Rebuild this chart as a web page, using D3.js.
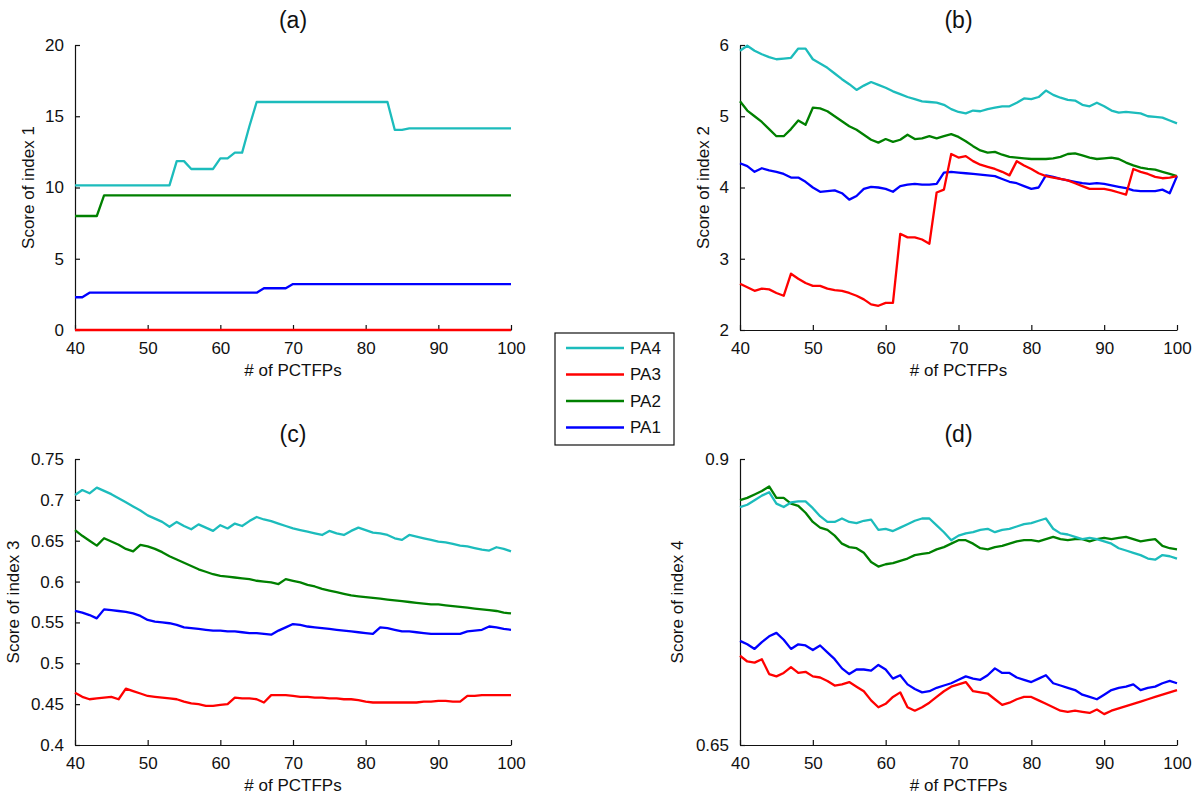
<!DOCTYPE html>
<html>
<head>
<meta charset="utf-8">
<script src="https://cdn.jsdelivr.net/npm/d3@7"></script>
<style>
  body { margin: 0; background: #fff; }
  text { font-family: Arial, "Liberation Sans", sans-serif; fill: #111; }
</style>
</head>
<body>
<div id="chart-area"></div>
<script>
// x grid: number of PCTFPs
const pctfps = [40, 41, 42, 43, 44, 45, 46, 47, 48, 49, 50, 51, 52, 53, 54, 55, 56, 57, 58, 59, 60,
    61, 62, 63, 64, 65, 66, 67, 68, 69, 70, 71, 72, 73, 74, 75, 76, 77, 78, 79, 80,
    81, 82, 83, 84, 85, 86, 87, 88, 89, 90, 91, 92, 93, 94, 95, 96, 97, 98, 99, 100]

const seriesNames = ['PA4', 'PA3', 'PA2', 'PA1']
const xTicks = [40, 50, 60, 70, 80, 90, 100]

// (a) index 1
const a_PA4 = [10.15, 10.15, 10.15, 10.15, 10.15, 10.15, 10.15, 10.15, 10.15, 10.15, 10.15, 10.15, 10.15, 10.15, 11.85, 11.85, 11.3, 11.3, 11.3, 11.3, 12.05,
    12.05, 12.45, 12.45, 14.3, 16, 16, 16, 16, 16, 16, 16, 16, 16, 16, 16, 16, 16, 16, 16, 16,
    16, 16, 16, 14.05, 14.05, 14.15, 14.15, 14.15, 14.15, 14.15, 14.15, 14.15, 14.15, 14.15, 14.15, 14.15, 14.15, 14.15, 14.15, 14.15]
const a_PA3 = [0, 0, 0, 0, 0, 0, 0, 0, 0, 0, 0, 0, 0, 0, 0, 0, 0, 0, 0, 0, 0,
    0, 0, 0, 0, 0, 0, 0, 0, 0, 0, 0, 0, 0, 0, 0, 0, 0, 0, 0, 0,
    0, 0, 0, 0, 0, 0, 0, 0, 0, 0, 0, 0, 0, 0, 0, 0, 0, 0, 0, 0]
const a_PA2 = [8, 8, 8, 8, 9.45, 9.45, 9.45, 9.45, 9.45, 9.45, 9.45, 9.45, 9.45, 9.45, 9.45, 9.45, 9.45, 9.45, 9.45, 9.45, 9.45,
    9.45, 9.45, 9.45, 9.45, 9.45, 9.45, 9.45, 9.45, 9.45, 9.45, 9.45, 9.45, 9.45, 9.45, 9.45, 9.45, 9.45, 9.45, 9.45, 9.45,
    9.45, 9.45, 9.45, 9.45, 9.45, 9.45, 9.45, 9.45, 9.45, 9.45, 9.45, 9.45, 9.45, 9.45, 9.45, 9.45, 9.45, 9.45, 9.45, 9.45]
const a_PA1 = [2.3, 2.3, 2.62, 2.62, 2.62, 2.62, 2.62, 2.62, 2.62, 2.62, 2.62, 2.62, 2.62, 2.62, 2.62, 2.62, 2.62, 2.62, 2.62, 2.62, 2.62,
    2.62, 2.62, 2.62, 2.62, 2.62, 2.93, 2.93, 2.93, 2.93, 3.22, 3.22, 3.22, 3.22, 3.22, 3.22, 3.22, 3.22, 3.22, 3.22, 3.22,
    3.22, 3.22, 3.22, 3.22, 3.22, 3.22, 3.22, 3.22, 3.22, 3.22, 3.22, 3.22, 3.22, 3.22, 3.22, 3.22, 3.22, 3.22, 3.22, 3.22]
const a_yTicks = [0, 5, 10, 15, 20]

// (b) index 2
const b_PA4 = [5.92, 5.99, 5.92, 5.87, 5.83, 5.8, 5.81, 5.82, 5.95, 5.95, 5.8, 5.74, 5.68, 5.6, 5.52, 5.45, 5.37, 5.43, 5.48, 5.44, 5.4,
    5.35, 5.31, 5.27, 5.24, 5.21, 5.2, 5.19, 5.16, 5.1, 5.06, 5.04, 5.08, 5.07, 5.1, 5.12, 5.14, 5.14, 5.19, 5.25, 5.24,
    5.27, 5.36, 5.3, 5.26, 5.23, 5.22, 5.16, 5.14, 5.19, 5.14, 5.08, 5.05, 5.06, 5.05, 5.04, 5.0, 4.99, 4.98, 4.94, 4.9]
const b_PA3 = [2.65, 2.6, 2.55, 2.58, 2.57, 2.52, 2.48, 2.79, 2.72, 2.66, 2.62, 2.62, 2.58, 2.56, 2.55, 2.52, 2.48, 2.43, 2.36, 2.34, 2.38,
    2.38, 3.35, 3.3, 3.3, 3.27, 3.21, 3.93, 3.97, 4.47, 4.42, 4.44, 4.37, 4.32, 4.29, 4.26, 4.22, 4.17, 4.37, 4.31, 4.26,
    4.2, 4.16, 4.14, 4.12, 4.1, 4.06, 4.02, 3.98, 3.98, 3.98, 3.96, 3.93, 3.9, 4.26, 4.22, 4.19, 4.15, 4.13, 4.14, 4.16]
const b_PA2 = [5.21, 5.08, 5.0, 4.92, 4.82, 4.72, 4.72, 4.82, 4.94, 4.88, 5.12, 5.11, 5.07, 5.0, 4.93, 4.86, 4.81, 4.74, 4.67, 4.63, 4.68,
    4.64, 4.67, 4.74, 4.68, 4.69, 4.72, 4.69, 4.72, 4.75, 4.71, 4.65, 4.58, 4.52, 4.49, 4.5, 4.46, 4.43, 4.42, 4.41, 4.4,
    4.4, 4.4, 4.41, 4.43, 4.47, 4.48, 4.45, 4.42, 4.4, 4.41, 4.42, 4.4, 4.35, 4.31, 4.28, 4.26, 4.25, 4.22, 4.19, 4.16]
const b_PA1 = [4.34, 4.3, 4.22, 4.27, 4.24, 4.22, 4.19, 4.14, 4.14, 4.08, 4.0, 3.94, 3.95, 3.96, 3.92, 3.83, 3.88, 3.98, 4.01, 4.0, 3.98,
    3.94, 4.02, 4.04, 4.05, 4.04, 4.04, 4.05, 4.21, 4.22, 4.21, 4.2, 4.19, 4.18, 4.17, 4.16, 4.12, 4.08, 4.06, 4.02, 3.98,
    4.0, 4.17, 4.15, 4.12, 4.1, 4.08, 4.06, 4.05, 4.06, 4.05, 4.03, 4.01, 3.99, 3.96, 3.95, 3.95, 3.95, 3.97, 3.92, 4.16]
const b_yTicks = [2, 3, 4, 5, 6]

// (c) index 3
const c_PA4 = [0.706, 0.712, 0.708, 0.715, 0.711, 0.707, 0.702, 0.697, 0.692, 0.687, 0.681, 0.677, 0.673, 0.667, 0.673, 0.668, 0.664, 0.670, 0.666, 0.662, 0.669,
    0.665, 0.671, 0.668, 0.674, 0.679, 0.676, 0.674, 0.671, 0.668, 0.665, 0.663, 0.661, 0.659, 0.657, 0.662, 0.659, 0.657, 0.662, 0.666, 0.663,
    0.660, 0.659, 0.657, 0.653, 0.651, 0.657, 0.655, 0.653, 0.651, 0.649, 0.648, 0.646, 0.644, 0.643, 0.641, 0.639, 0.638, 0.642, 0.640, 0.637]
const c_PA3 = [0.464, 0.459, 0.456, 0.457, 0.458, 0.459, 0.456, 0.469, 0.466, 0.463, 0.460, 0.459, 0.458, 0.457, 0.456, 0.453, 0.451, 0.450, 0.448, 0.448, 0.449,
    0.450, 0.458, 0.457, 0.457, 0.456, 0.452, 0.461, 0.461, 0.461, 0.460, 0.459, 0.459, 0.458, 0.458, 0.457, 0.457, 0.456, 0.456, 0.455, 0.453,
    0.452, 0.452, 0.452, 0.452, 0.452, 0.452, 0.452, 0.453, 0.453, 0.454, 0.454, 0.453, 0.453, 0.460, 0.460, 0.461, 0.461, 0.461, 0.461, 0.461]
const c_PA2 = [0.663, 0.656, 0.650, 0.644, 0.653, 0.649, 0.645, 0.640, 0.637, 0.645, 0.643, 0.640, 0.636, 0.631, 0.627, 0.623, 0.619, 0.615, 0.612, 0.609, 0.607,
    0.606, 0.605, 0.604, 0.603, 0.601, 0.600, 0.599, 0.597, 0.603, 0.601, 0.599, 0.596, 0.594, 0.591, 0.589, 0.587, 0.585, 0.583, 0.582, 0.581,
    0.580, 0.579, 0.578, 0.577, 0.576, 0.575, 0.574, 0.573, 0.572, 0.572, 0.571, 0.570, 0.569, 0.568, 0.567, 0.566, 0.565, 0.564, 0.562, 0.561]
const c_PA1 = [0.564, 0.562, 0.559, 0.555, 0.566, 0.565, 0.564, 0.563, 0.561, 0.558, 0.553, 0.551, 0.550, 0.549, 0.547, 0.544, 0.543, 0.542, 0.541, 0.540, 0.540,
    0.539, 0.539, 0.538, 0.537, 0.537, 0.536, 0.535, 0.540, 0.544, 0.548, 0.547, 0.545, 0.544, 0.543, 0.542, 0.541, 0.540, 0.539, 0.538, 0.537,
    0.536, 0.544, 0.543, 0.541, 0.539, 0.539, 0.538, 0.537, 0.536, 0.536, 0.536, 0.536, 0.536, 0.539, 0.540, 0.541, 0.545, 0.544, 0.542, 0.541]
const c_yTicks = [0.4, 0.45, 0.5, 0.55, 0.6, 0.65, 0.7, 0.75]

// (d) index 4
const d_PA4 = [0.858, 0.860, 0.864, 0.868, 0.871, 0.861, 0.858, 0.862, 0.863, 0.863, 0.857, 0.850, 0.845, 0.845, 0.848, 0.845, 0.844, 0.846, 0.847, 0.838, 0.839,
    0.837, 0.840, 0.843, 0.846, 0.848, 0.848, 0.842, 0.836, 0.829, 0.833, 0.835, 0.836, 0.838, 0.839, 0.836, 0.838, 0.839, 0.841, 0.843, 0.844,
    0.846, 0.848, 0.839, 0.835, 0.834, 0.832, 0.830, 0.831, 0.830, 0.828, 0.826, 0.822, 0.820, 0.818, 0.816, 0.813, 0.812, 0.816, 0.815, 0.813]
const d_PA3 = [0.728, 0.723, 0.722, 0.725, 0.712, 0.710, 0.713, 0.718, 0.713, 0.714, 0.710, 0.709, 0.706, 0.702, 0.703, 0.705, 0.701, 0.697, 0.689, 0.683, 0.686,
    0.692, 0.696, 0.683, 0.680, 0.683, 0.687, 0.692, 0.697, 0.701, 0.703, 0.705, 0.697, 0.696, 0.695, 0.690, 0.685, 0.687, 0.690, 0.692, 0.692,
    0.689, 0.686, 0.683, 0.680, 0.679, 0.680, 0.679, 0.678, 0.681, 0.677, 0.680, 0.682, 0.684, 0.686, 0.688, 0.690, 0.692, 0.694, 0.696, 0.698]
const d_PA2 = [0.864, 0.866, 0.869, 0.872, 0.876, 0.866, 0.866, 0.861, 0.859, 0.853, 0.845, 0.840, 0.838, 0.833, 0.826, 0.823, 0.822, 0.818, 0.810, 0.806, 0.808,
    0.809, 0.811, 0.813, 0.816, 0.817, 0.818, 0.821, 0.823, 0.826, 0.829, 0.829, 0.826, 0.822, 0.821, 0.823, 0.824, 0.826, 0.828, 0.829, 0.829,
    0.828, 0.830, 0.832, 0.830, 0.829, 0.830, 0.830, 0.828, 0.830, 0.831, 0.830, 0.831, 0.832, 0.830, 0.828, 0.829, 0.830, 0.824, 0.822, 0.821]
const d_PA1 = [0.741, 0.738, 0.734, 0.740, 0.745, 0.748, 0.742, 0.734, 0.738, 0.737, 0.733, 0.737, 0.731, 0.725, 0.717, 0.712, 0.716, 0.716, 0.715, 0.720, 0.716,
    0.708, 0.711, 0.703, 0.699, 0.696, 0.697, 0.700, 0.702, 0.704, 0.707, 0.710, 0.708, 0.707, 0.711, 0.717, 0.713, 0.713, 0.709, 0.707, 0.705,
    0.708, 0.711, 0.704, 0.702, 0.700, 0.698, 0.694, 0.692, 0.690, 0.694, 0.698, 0.700, 0.701, 0.703, 0.698, 0.700, 0.701, 0.704, 0.706, 0.704]
const d_yTicks = [0.65, 0.9]

const colors = { PA4: '#1cbcbc', PA3: '#ff0000', PA2: '#008000', PA1: '#0000ff' }

const panels = [
    { title: '(a)', yLabel: 'Score of index 1', yTicks: a_yTicks, series: { PA4: a_PA4, PA3: a_PA3, PA2: a_PA2, PA1: a_PA1 },
      left: 75, right: 511, top: 45, bottom: 330, yLabelX: 34 },
    { title: '(b)', yLabel: 'Score of index 2', yTicks: b_yTicks, series: { PA4: b_PA4, PA3: b_PA3, PA2: b_PA2, PA1: b_PA1 },
      left: 740, right: 1177, top: 45, bottom: 330, yLabelX: 709 },
    { title: '(c)', yLabel: 'Score of index 3', yTicks: c_yTicks, series: { PA4: c_PA4, PA3: c_PA3, PA2: c_PA2, PA1: c_PA1 },
      left: 75, right: 511, top: 459, bottom: 745, yLabelX: 19 },
    { title: '(d)', yLabel: 'Score of index 4', yTicks: d_yTicks, series: { PA4: d_PA4, PA3: d_PA3, PA2: d_PA2, PA1: d_PA1 },
      left: 740, right: 1177, top: 459, bottom: 745, yLabelX: 683 }
]

const svg = d3.select('#chart-area').append('svg')
    .attr('width', 1200)
    .attr('height', 802)

svg.append('rect')
    .attr('width', 1200)
    .attr('height', 802)
    .attr('fill', '#fff')

panels.forEach(p => {
    const x = d3.scaleLinear()
        .domain([40, 100])
        .range([p.left, p.right])
    const y = d3.scaleLinear()
        .domain(d3.extent(p.yTicks))
        .range([p.bottom, p.top])

    const g = svg.append('g')

    const xAxisCall = d3.axisBottom(x)
        .tickValues(xTicks)
        .tickSizeInner(-5)
        .tickSizeOuter(0)
        .tickPadding(12)
    const xAxis = g.append('g')
        .attr('transform', `translate(0, ${p.bottom})`)
        .call(xAxisCall)
    xAxis.selectAll('text')
        .attr('font-size', '17px')
        .attr('font-family', 'Arial, "Liberation Sans", sans-serif')
        .attr('fill', '#111')

    const yAxisCall = d3.axisLeft(y)
        .tickValues(p.yTicks)
        .tickFormat(d => `${+d.toFixed(2)}`)
        .tickSizeInner(-5)
        .tickSizeOuter(0)
        .tickPadding(11)
    const yAxis = g.append('g')
        .attr('transform', `translate(${p.left}, 0)`)
        .call(yAxisCall)
    yAxis.selectAll('text')
        .attr('font-size', '17px')
        .attr('font-family', 'Arial, "Liberation Sans", sans-serif')
        .attr('fill', '#111')

    g.selectAll('.domain, .tick line')
        .attr('stroke', '#111')
        .attr('stroke-width', 1.2)

    // lines drawn over the axes, as in the original figure
    const line = d3.line()
        .x((d, i) => x(pctfps[i]))
        .y(d => y(d))

    ;['PA1', 'PA2', 'PA3', 'PA4'].forEach(name => {
        g.append('path')
            .datum(p.series[name])
            .attr('d', line)
            .attr('fill', 'none')
            .attr('stroke', colors[name])
            .attr('stroke-width', 2.3)
            .attr('stroke-linejoin', 'round')
    })

    g.append('text')
        .attr('x', (p.left + p.right) / 2)
        .attr('y', p.top - 17)
        .attr('text-anchor', 'middle')
        .attr('font-size', '23px')
        .text(p.title)

    g.append('text')
        .attr('x', (p.left + p.right) / 2)
        .attr('y', p.bottom + 46)
        .attr('text-anchor', 'middle')
        .attr('font-size', '17px')
        .text('# of PCTFPs')

    g.append('text')
        .attr('transform', `translate(${p.yLabelX}, ${(p.top + p.bottom) / 2}) rotate(-90)`)
        .attr('text-anchor', 'middle')
        .attr('font-size', '17px')
        .text(p.yLabel)
})

// legend in the gap between the panels
const legend = svg.append('g')
    .attr('transform', 'translate(555, 333)')

legend.append('rect')
    .attr('width', 119)
    .attr('height', 112)
    .attr('fill', '#fff')
    .attr('stroke', '#111')
    .attr('stroke-width', 1.2)

seriesNames.forEach((name, i) => {
    const ly = 15 + i * 26.5
    legend.append('line')
        .attr('x1', 11)
        .attr('x2', 69)
        .attr('y1', ly)
        .attr('y2', ly)
        .attr('stroke', colors[name])
        .attr('stroke-width', 2.3)
    legend.append('text')
        .attr('x', 75)
        .attr('y', ly)
        .attr('dy', '0.35em')
        .attr('font-size', '17px')
        .text(name)
})
</script>
</body>
</html>
